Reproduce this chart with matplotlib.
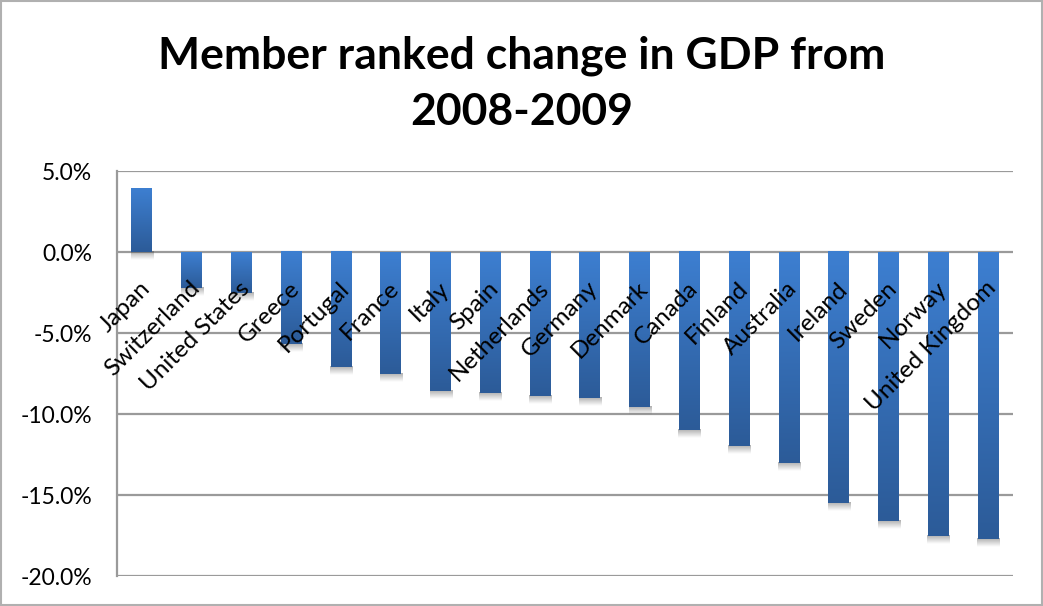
import numpy as np
import matplotlib
matplotlib.use("Agg")
import matplotlib.pyplot as plt
from matplotlib.colors import LinearSegmentedColormap
from matplotlib.transforms import offset_copy
from matplotlib.patches import Rectangle

plt.rcParams['font.family'] = ['Lato', 'DejaVu Sans']

countries = ['Japan', 'Switzerland', 'United States', 'Greece', 'Portugal', 'France',
             'Italy', 'Spain', 'Netherlands', 'Germany', 'Denmark', 'Canada',
             'Finland', 'Australia', 'Ireland', 'Sweden', 'Norway', 'United Kingdom']
gdp_change = [3.9, -2.2, -2.5, -5.7, -7.1, -7.5,
              -8.56, -8.69, -8.91, -8.99, -9.55, -11.0,
              -12.0, -13.0, -15.5, -16.6, -17.5, -17.7]
y_ticks = [5, 0, -5, -10, -15, -20]

fig = plt.figure(figsize=(10.43, 6.06), dpi=100)
ax = fig.add_axes([0.1122, 0.0495, 0.859, 0.6683])

# outer chart border
fig.patches.append(Rectangle((0.001, 0.001), 0.998, 0.997, transform=fig.transFigure,
                             fill=False, edgecolor='#b0b0b0', linewidth=1.5))

bar_cmap = LinearSegmentedColormap.from_list('bar', ['#3d7fd1', '#2c5b98'])
grad = np.linspace(0, 1, 256).reshape(-1, 1)
width = 0.42
px_y = 25.0 / 405  # percent per pixel, vertical

for i, v in enumerate(gdp_change):
    top, bottom = max(v, 0), min(v, 0)
    # soft shadow under each bar
    shadow = np.zeros((32, 1, 4))
    shadow[..., :3] = 0.3
    shadow[:, 0, 3] = np.linspace(0.45, 0.0, 32)
    ax.imshow(shadow, extent=[i - width / 2 - 0.01, i + width / 2 + 0.03,
                              bottom - 8 * px_y, bottom + px_y],
              aspect='auto', interpolation='bilinear', zorder=1.5)
    ax.imshow(grad, cmap=bar_cmap, extent=[i - width / 2, i + width / 2, bottom, top],
              aspect='auto', interpolation='bilinear', zorder=2)

ax.set_xlim(-0.5, len(countries) - 0.5)
ax.set_ylim(-20, 5)
ax.set_yticks(y_ticks)
ax.set_yticklabels([f'{t:.1f}%' for t in y_ticks], fontsize=16.5)
ax.tick_params(axis='y', length=0, pad=18)
ax.set_xticks([])
ax.grid(axis='y', color='#9a9a9a', linewidth=1.6, zorder=1)
ax.set_axisbelow(True)
for side in ['top', 'right', 'bottom']:
    ax.spines[side].set_visible(False)
ax.spines['left'].set_color('#9a9a9a')
ax.spines['left'].set_linewidth(1.6)

# category labels sit just under the zero line, rotated 45 degrees
for i, name in enumerate(countries):
    tr = offset_copy(ax.transData, fig=fig, x=5, y=-33, units='dots')
    ax.text(i, 0, name, transform=tr, rotation=45, rotation_mode='anchor',
            ha='right', va='center', fontsize=17.5, zorder=3)

fig.text(0.5, 0.862, 'Member ranked change in GDP from\n2008-2009', ha='center', va='center',
         fontsize=32, fontweight='bold', linespacing=1.5)

fig.savefig('out.png', dpi=100)
